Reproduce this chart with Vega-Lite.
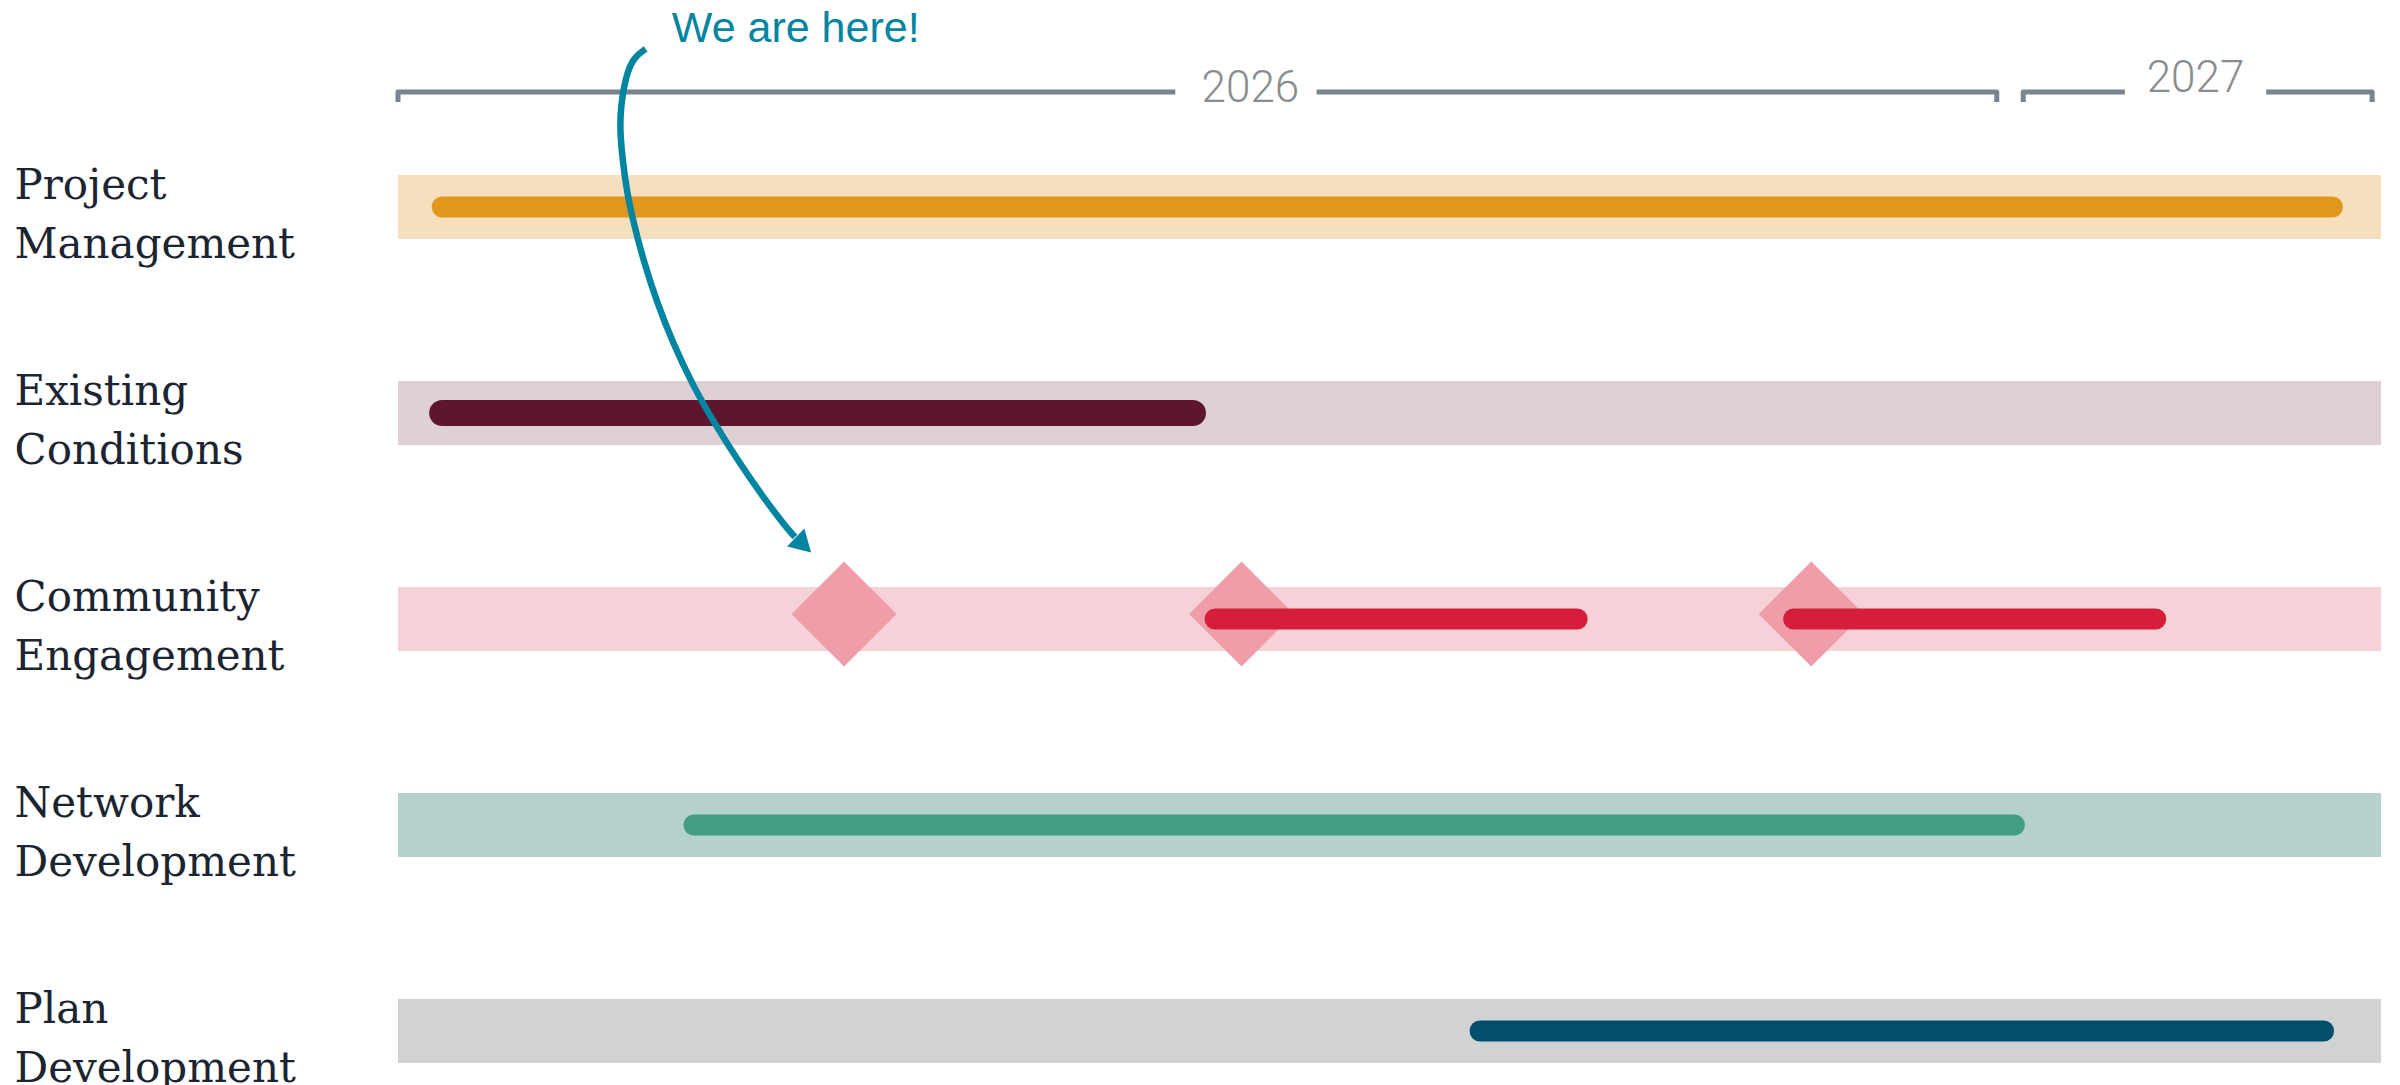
{
  "$schema": "https://vega.github.io/schema/vega-lite/v6.json",
  "width": 1983,
  "height": 932,
  "autosize": {"type": "none"},
  "padding": {"left": 398, "top": 153, "right": 19, "bottom": 0},
  "background": "white",
  "config": {"view": {"stroke": null}},
  "datasets": {
    "lanes": [
      {"task": "Project Management", "start": "2026-01-01", "end": "2027-03-26"},
      {"task": "Existing Conditions", "start": "2026-01-01", "end": "2027-03-26"},
      {"task": "Community Engagement", "start": "2026-01-01", "end": "2027-03-26"},
      {"task": "Network Development", "start": "2026-01-01", "end": "2027-03-26"},
      {"task": "Plan Development", "start": "2026-01-01", "end": "2027-03-26"}
    ],
    "bars": [
      {"task": "Project Management", "start": "2026-01-11", "end": "2027-03-15"},
      {"task": "Existing Conditions", "start": "2026-01-11", "end": "2026-06-30"},
      {"task": "Community Engagement", "start": "2026-07-05", "end": "2026-09-25"},
      {"task": "Community Engagement", "start": "2026-11-13", "end": "2027-02-03"},
      {"task": "Network Development", "start": "2026-03-09", "end": "2027-01-02"},
      {"task": "Plan Development", "start": "2026-09-03", "end": "2027-03-13"}
    ],
    "milestones": [
      {"task": "Community Engagement", "start": "2026-04-12"},
      {"task": "Community Engagement", "start": "2026-07-11"},
      {"task": "Community Engagement", "start": "2026-11-17"}
    ],
    "bracket": [
      {"seg": "A", "i": 0, "start": "2026-01-01", "r": -0.5097},
      {"seg": "A", "i": 1, "start": "2026-01-01", "r": -0.5583},
      {"seg": "A", "i": 2, "start": "2026-06-26", "r": -0.5583},
      {"seg": "B", "i": 0, "start": "2026-07-28", "r": -0.5583},
      {"seg": "B", "i": 1, "start": "2026-12-29", "r": -0.5583},
      {"seg": "B", "i": 2, "start": "2026-12-29", "r": -0.5097},
      {"seg": "C", "i": 0, "start": "2027-01-04", "r": -0.5097},
      {"seg": "C", "i": 1, "start": "2027-01-04", "r": -0.5583},
      {"seg": "C", "i": 2, "start": "2027-01-27", "r": -0.5583},
      {"seg": "D", "i": 0, "start": "2027-02-28", "r": -0.5583},
      {"seg": "D", "i": 1, "start": "2027-03-24", "r": -0.5583},
      {"seg": "D", "i": 2, "start": "2027-03-24", "r": -0.5097}
    ],
    "years": [
      {"label": "2026", "start": "2026-07-13", "r": -0.5097},
      {"label": "2027", "start": "2027-02-12", "r": -0.5583}
    ],
    "arrow": [
      {"i": 1, "start": "2026-02-26T02:00:00Z", "r": -0.767},
      {"i": 2, "start": "2026-02-23T07:00:00Z", "r": -0.726},
      {"i": 3, "start": "2026-02-21T13:00:00Z", "r": -0.633},
      {"i": 4, "start": "2026-02-20T10:00:00Z", "r": -0.485},
      {"i": 5, "start": "2026-02-20T06:00:00Z", "r": -0.374},
      {"i": 6, "start": "2026-02-20T21:00:00Z", "r": -0.225},
      {"i": 7, "start": "2026-02-21T19:00:00Z", "r": -0.078},
      {"i": 8, "start": "2026-02-23T07:00:00Z", "r": 0.073},
      {"i": 9, "start": "2026-02-25T13:00:00Z", "r": 0.257},
      {"i": 10, "start": "2026-02-28T14:00:00Z", "r": 0.461},
      {"i": 11, "start": "2026-03-04T08:00:00Z", "r": 0.665},
      {"i": 12, "start": "2026-03-08T21:00:00Z", "r": 0.871},
      {"i": 13, "start": "2026-03-13T09:00:00Z", "r": 1.039},
      {"i": 14, "start": "2026-03-18T17:00:00Z", "r": 1.223},
      {"i": 15, "start": "2026-03-24T17:00:00Z", "r": 1.41},
      {"i": 16, "start": "2026-03-30T00:00:00Z", "r": 1.558},
      {"i": 17, "start": "2026-03-31T21:00:00Z", "r": 1.602}
    ],
    "arrowhead": [
      {"start": "2026-04-02T19:00:00Z", "r": 1.641}
    ],
    "note": [
      {"label": "We are here!", "start": "2026-03-04", "r": -0.801}
    ]
  },
  "encoding": {
    "x": {
      "field": "start",
      "type": "temporal",
      "scale": {
        "domain": [
          {"year": 2026, "month": 1, "date": 1, "utc": true},
          {"year": 2027, "month": 3, "date": 26, "utc": true}
        ],
        "nice": false
      },
      "axis": null
    }
  },
  "layer": [
    {
      "encoding": {
        "y": {
          "field": "task",
          "type": "nominal",
          "scale": {
            "domain": ["Project Management", "Existing Conditions", "Community Engagement", "Network Development", "Plan Development"],
            "paddingInner": 0.6893,
            "paddingOuter": 0.107
          },
          "axis": {
            "title": null,
            "domain": false,
            "ticks": false,
            "tickSize": 0,
            "grid": false,
            "labelAlign": "left",
            "labelBaseline": "middle",
            "labelPadding": 384,
            "labelOffset": -21,
            "labelFont": "DejaVu Serif",
            "labelFontSize": 42,
            "labelColor": "#1B2431",
            "labelLineHeight": 59,
            "labelLimit": 500,
            "labelOverlap": false,
            "labelExpr": "split(datum.label, ' ')"
          }
        }
      },
      "layer": [
        {
          "data": {"name": "lanes"},
          "mark": {"type": "rect"},
          "encoding": {
            "x2": {"field": "end"},
            "fill": {
              "field": "task",
              "type": "nominal",
              "scale": {
                "domain": ["Project Management", "Existing Conditions", "Community Engagement", "Network Development", "Plan Development"],
                "range": ["#F5DFBC", "#DFD0D5", "#F6D2D8", "#B5D1CB", "#D1D2D4"]
              },
              "legend": null
            }
          }
        },
        {
          "data": {"name": "milestones"},
          "mark": {"type": "point", "shape": "diamond", "filled": true, "size": 11025, "opacity": 1, "color": "#EE9DA9", "yOffset": -5}
        },
        {
          "data": {"name": "bars"},
          "transform": [{"filter": "datum.task !== 'Existing Conditions'"}],
          "mark": {"type": "rule", "strokeWidth": 21, "strokeCap": "round"},
          "encoding": {
            "x2": {"field": "end"},
            "stroke": {
              "field": "task",
              "type": "nominal",
              "scale": {
                "domain": ["Project Management", "Existing Conditions", "Community Engagement", "Network Development", "Plan Development"],
                "range": ["#E2971F", "#5D162D", "#D51E3C", "#449D83", "#034E6B"]
              },
              "legend": null
            }
          }
        },
        {
          "data": {"name": "bars"},
          "transform": [{"filter": "datum.task === 'Existing Conditions'"}],
          "mark": {"type": "rule", "strokeWidth": 26, "strokeCap": "round", "color": "#5D162D"},
          "encoding": {"x2": {"field": "end"}}
        }
      ]
    },
    {
      "encoding": {
        "y": {
          "field": "r",
          "type": "quantitative",
          "scale": {"domain": [-0.26214, 4.26214], "reverse": true, "nice": false, "zero": false},
          "axis": null
        }
      },
      "layer": [
        {
          "data": {"name": "bracket"},
          "mark": {"type": "line", "color": "#788590", "strokeWidth": 5, "strokeJoin": "round", "strokeCap": "butt"},
          "encoding": {"detail": {"field": "seg"}, "order": {"field": "i", "type": "quantitative"}}
        },
        {
          "data": {"name": "years"},
          "mark": {"type": "text", "align": "center", "baseline": "alphabetic", "font": "Roboto", "fontWeight": 300, "fontSize": 44, "color": "#8A8D90"},
          "encoding": {"text": {"field": "label"}}
        },
        {
          "data": {"name": "arrow"},
          "mark": {"type": "line", "color": "#0285A1", "strokeWidth": 6.5, "interpolate": "basis", "strokeCap": "butt"},
          "encoding": {"order": {"field": "i", "type": "quantitative"}}
        },
        {
          "data": {"name": "arrowhead"},
          "mark": {"type": "point", "shape": "triangle-up", "filled": true, "size": 620, "angle": 134, "opacity": 1, "color": "#0285A1"}
        },
        {
          "data": {"name": "note"},
          "mark": {"type": "text", "align": "left", "baseline": "alphabetic", "font": "Liberation Sans", "fontSize": 43, "color": "#0285A1"},
          "encoding": {"text": {"field": "label"}}
        }
      ]
    }
  ],
  "resolve": {"scale": {"y": "independent"}}
}
